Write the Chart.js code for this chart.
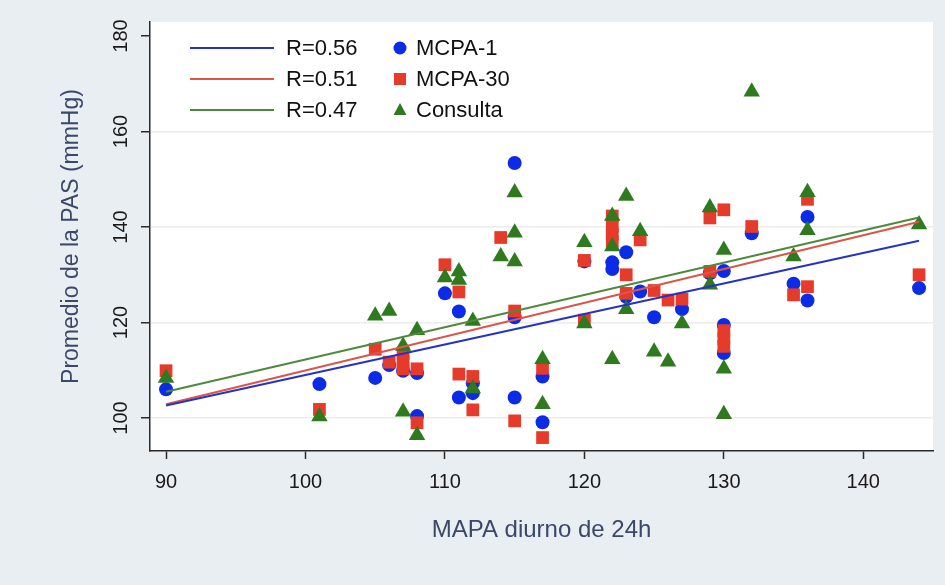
<!DOCTYPE html>
<html>
<head>
<meta charset="utf-8">
<script src="https://cdn.jsdelivr.net/npm/chart.js@4.4.1/dist/chart.umd.min.js"></script>
<style>
    body { margin: 0; background: #e9eef2; }
    #wrap { position: relative; width: 945px; height: 585px; }
</style>
</head>
<body>
<div id="wrap"><canvas id="scatterChart"></canvas></div>
<script>
// Datos
const mcpa1X = [90, 101, 105, 106, 107, 108, 108, 110, 111, 111, 112, 112, 115, 115, 115, 117, 117, 120,
    122, 122, 123, 123, 124, 125, 127, 129, 130, 130, 130, 132, 135, 136, 136, 144];
const mcpa1Y = [106, 107.1, 108.4, 111.1, 109.9, 109.4, 100.4, 126.1, 122.3, 104.3, 107.3, 105.2, 153.4, 121.1, 104.3, 108.7, 99.1, 132.8,
    132.6, 131.2, 134.7, 125.4, 126.5, 121.1, 122.8, 130.3, 130.8, 119.5, 113.6, 138.7, 128.1, 142.1, 124.6, 127.2];

const mcpa30X = [90, 101, 105, 106, 107, 107, 107, 108, 108, 110, 111, 111, 112, 112, 114, 115, 115, 117, 117, 120, 120,
    122, 122, 122, 122, 123, 123, 124, 125, 126, 127, 129, 129, 130, 130, 130, 130, 132, 135, 136, 136, 144];
const mcpa30Y = [109.9, 101.8, 114.4, 111.7, 113.6, 111.8, 110.3, 110.3, 99.0, 132.1, 126.4, 109.2, 108.7, 101.7, 137.8, 122.4, 99.4, 110.4, 95.9, 133.0, 120.5,
    142.3, 140.1, 138.5, 137.0, 130.0, 126.1, 137.3, 126.7, 124.7, 124.9, 141.9, 130.7, 143.6, 118.3, 116.6, 115.0, 140.1, 125.8, 145.8, 127.5, 130.0];

const consultaX = [90, 101, 105, 106, 107, 107, 108, 108, 110, 111, 111, 112, 112, 114, 115, 115, 115, 117, 117, 120, 120,
    122, 122, 122, 123, 123, 124, 125, 126, 127, 129, 129, 130, 130, 130, 132, 135, 136, 136, 144];
const consultaY = [108.4, 100.3, 121.4, 122.4, 115.1, 101.3, 118.4, 96.4, 129.4, 130.7, 128.9, 120.3, 106.2, 133.8, 147.2, 138.8, 132.8, 112.3, 102.9, 136.8, 119.8,
    142.3, 135.9, 112.3, 146.5, 122.8, 139.1, 113.9, 111.8, 119.8, 144.1, 127.9, 135.2, 110.3, 100.8, 168.3, 133.8, 147.3, 139.3, 140.5];

// Rectas de regresion (extremos)
const fitX = [90, 144];
const fitMcpa1 = [102.6, 137.1];
const fitMcpa30 = [102.9, 141.1];
const fitConsulta = [105.5, 142.0];

const fitLabels = ['R=0.56', 'R=0.51', 'R=0.47'];
const seriesNames = ['MCPA-1', 'MCPA-30', 'Consulta'];

const xTicks = [90, 100, 110, 120, 130, 140];
const yTicks = [100, 120, 140, 160, 180];

const markerColors = ['#0c2be6', '#e63a2a', '#2f7a1f'];
const lineColors = ['#2633c2', '#d9574a', '#4d8a3e'];
const markerStyles = ['circle', 'rect', 'triangle'];

const zip = (xs, ys) => xs.map((x, i) => ({ x: x, y: ys[i] }));

function fitDataset(ys, color) {
    return {
        data: zip(fitX, ys),
        showLine: true,
        borderColor: color,
        borderWidth: 2,
        pointRadius: 0,
        fill: false,
        order: 0
    };
}

function pointDataset(label, xs, ys, i, radius, order) {
    return {
        label: label,
        data: zip(xs, ys),
        pointStyle: markerStyles[i],
        pointRadius: radius,
        pointBackgroundColor: markerColors[i],
        pointBorderWidth: 0,
        showLine: false,
        order: order
    };
}

// fondo blanco del area del grafico
const plotBackground = {
    id: 'plotBackground',
    beforeDraw(chart) {
        const { ctx, chartArea: a } = chart;
        ctx.save();
        ctx.fillStyle = '#ffffff';
        ctx.fillRect(a.left, a.top, a.right - a.left, a.bottom - a.top);
        ctx.restore();
    }
};

// leyenda dentro del grafico (dos columnas)
const innerLegend = {
    id: 'innerLegend',
    afterDraw(chart) {
        const ctx = chart.ctx;
        const rows = [48, 79, 110];
        ctx.save();
        ctx.font = '22px "Liberation Sans", Arial, sans-serif';
        ctx.textBaseline = 'middle';
        ctx.textAlign = 'left';
        rows.forEach((y, i) => {
            ctx.strokeStyle = lineColors[i];
            ctx.lineWidth = 2;
            ctx.beginPath();
            ctx.moveTo(190, y);
            ctx.lineTo(274, y);
            ctx.stroke();
            ctx.fillStyle = '#111';
            ctx.fillText(fitLabels[i], 286, y + 1);

            ctx.fillStyle = markerColors[i];
            ctx.beginPath();
            if (i === 0) {
                ctx.arc(400, y, 6.5, 0, Math.PI * 2);
            } else if (i === 1) {
                ctx.rect(394, y - 6, 12, 12);
            } else {
                ctx.moveTo(400, y - 7);
                ctx.lineTo(406.5, y + 5);
                ctx.lineTo(393.5, y + 5);
                ctx.closePath();
            }
            ctx.fill();
            ctx.fillStyle = '#111';
            ctx.fillText(seriesNames[i], 416, y + 1);
        });
        ctx.restore();
    }
};

const ctx = document.getElementById('scatterChart').getContext('2d');
new Chart(ctx, {
    type: 'scatter',
    data: {
        datasets: [
            fitDataset(fitMcpa1, lineColors[0]),
            fitDataset(fitMcpa30, lineColors[1]),
            fitDataset(fitConsulta, lineColors[2]),
            pointDataset(seriesNames[2], consultaX, consultaY, 2, 9.5, 1),
            pointDataset(seriesNames[1], mcpa30X, mcpa30Y, 1, 9, 2),
            pointDataset(seriesNames[0], mcpa1X, mcpa1Y, 0, 7, 3)
        ]
    },
    options: {
        responsive: true,
        maintainAspectRatio: false,
        animation: false,
        layout: { padding: { left: 0, top: 22, right: 12, bottom: 0 } },
        plugins: {
            legend: { display: false },
            tooltip: { enabled: false }
        },
        scales: {
            x: {
                type: 'linear',
                min: 88.85,
                max: 145,
                afterBuildTicks: (s) => { s.ticks = xTicks.map(v => ({ value: v })); },
                afterFit: (s) => { s.height = 134; },
                border: { color: '#2a2a2a', width: 1.5 },
                grid: { drawOnChartArea: false, tickColor: '#2a2a2a', tickLength: 8, tickWidth: 1.5 },
                ticks: {
                    color: '#1a1a1a',
                    padding: 11,
                    font: { family: '"Liberation Sans", Arial, sans-serif', size: 20 }
                },
                title: {
                    display: true,
                    text: 'MAPA diurno de 24h',
                    color: '#3b4868',
                    padding: { top: 0, bottom: 40 },
                    font: { family: '"Liberation Sans", Arial, sans-serif', size: 24 }
                }
            },
            y: {
                type: 'linear',
                min: 93.09,
                max: 182.93,
                afterBuildTicks: (s) => { s.ticks = yTicks.map(v => ({ value: v })); },
                afterFit: (s) => { s.width = 150; },
                border: { color: '#2a2a2a', width: 1.5 },
                grid: {
                    color: (c) => (c.tick && c.tick.value === 180) ? 'rgba(0,0,0,0)' : '#ececec',
                    lineWidth: 1.5,
                    tickColor: '#2a2a2a',
                    tickLength: 9,
                    tickWidth: 1.5
                },
                ticks: {
                    color: '#1a1a1a',
                    padding: 3,
                    minRotation: 90,
                    maxRotation: 90,
                    crossAlign: 'center',
                    font: { family: '"Liberation Sans", Arial, sans-serif', size: 20 }
                },
                title: {
                    display: true,
                    text: 'Promedio de la PAS (mmHg)',
                    color: '#3b4868',
                    padding: { top: 58, bottom: 0 },
                    font: { family: '"Liberation Sans", Arial, sans-serif', size: 23 }
                }
            }
        }
    },
    plugins: [plotBackground, innerLegend]
});
</script>
</body>
</html>
